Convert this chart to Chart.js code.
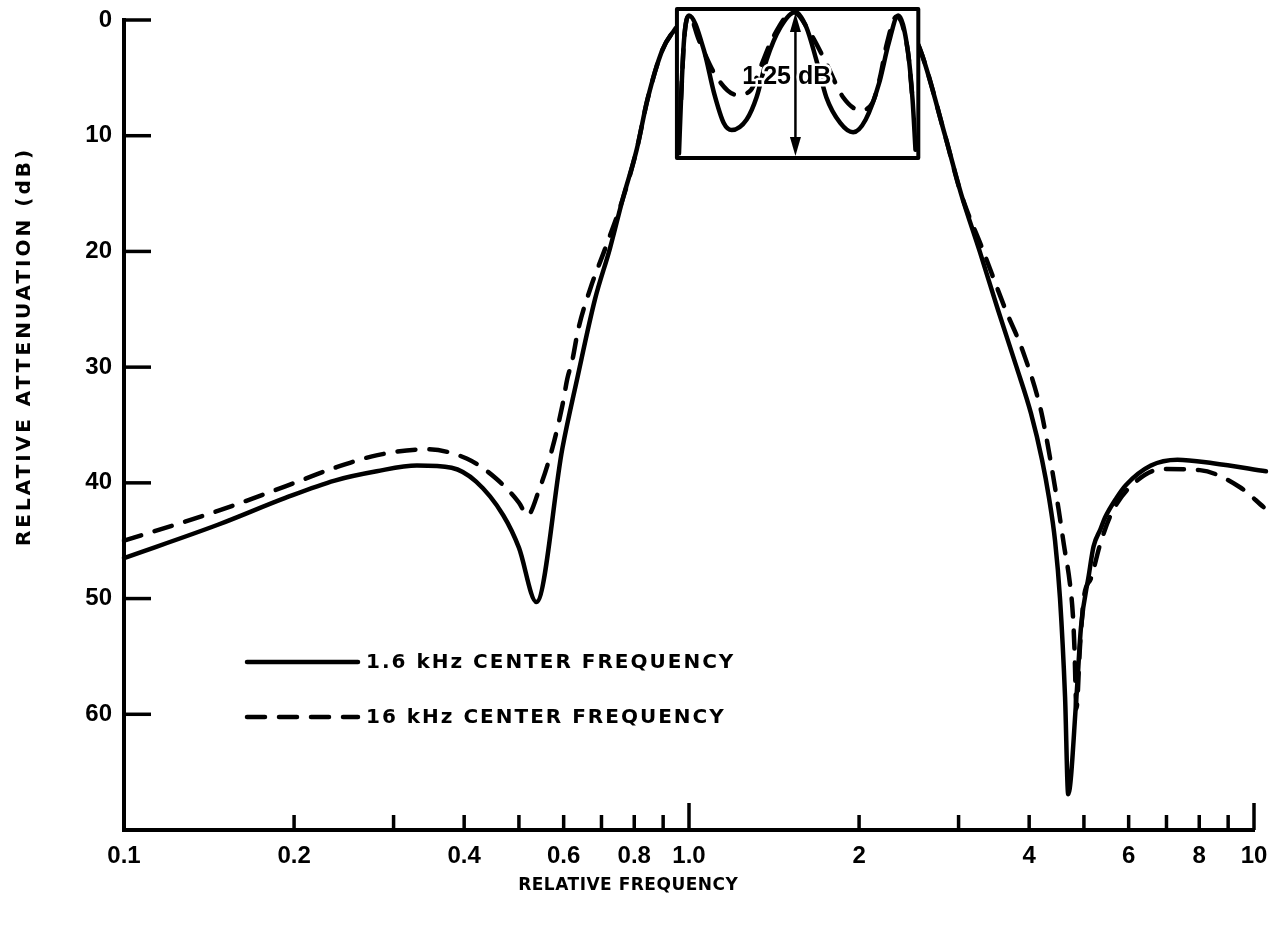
<!DOCTYPE html>
<html>
<head>
<meta charset="utf-8">
<script src="https://cdn.jsdelivr.net/npm/chart.js@4/dist/chart.umd.min.js"></script>
<style>
html,body{margin:0;padding:0;background:#fff;}
canvas{display:block;}
</style>
</head>
<body>
<canvas id="c" width="1269" height="931"></canvas>
<script>
// ---------------- data ----------------
const SERIES_LABELS = ['1.6 kHz CENTER FREQUENCY', '16 kHz CENTER FREQUENCY'];

const solidFreq = [0.1, 0.147, 0.193, 0.236, 0.28, 0.33, 0.38, 0.42, 0.469, 0.5, 0.537,
  0.597, 0.634, 0.682, 0.724, 0.763, 0.808, 0.844, 0.897, 0.941, 0.952, 1.0, 1.55, 2.4, 2.567,
  2.84, 3.03, 3.27, 3.52, 3.80, 4.03, 4.215, 4.337, 4.445, 4.536, 4.63, 4.69,
  4.85, 4.94, 5.1, 5.2, 5.35, 5.45, 5.71, 5.93, 6.57, 7.32, 8.46, 10.5];
const solidDb = [46.5, 43.6, 41.3, 39.8, 39.0, 38.5, 38.7, 39.9, 42.8, 45.6, 50.3,
  37.0, 31.0, 24.1, 19.8, 15.5, 11.2, 6.9, 2.6, 0.9, 0.6, 0.0, 0.0, 0.0, 2.6,
  10, 15, 20, 25, 30, 34, 38, 41.3, 45, 50, 58.5, 66.9,
  58.5, 52.5, 48, 45.5, 44, 43, 41.3, 40.2, 38.5, 38.0, 38.3, 39.0];

const dashFreq = [0.1, 0.147, 0.193, 0.236, 0.281, 0.343, 0.404, 0.455, 0.5, 0.518,
  0.542, 0.573, 0.597, 0.609, 0.621, 0.637, 0.669, 0.71, 0.763, 0.808, 0.844, 0.897, 0.941, 0.952,
  1.0, 1.55, 2.4, 2.567, 2.84, 3.03, 3.32, 3.63, 3.89, 4.19, 4.31, 4.41, 4.51, 4.61, 4.72, 4.78, 4.81, 4.85,
  4.92, 5.0, 5.15, 5.35, 5.6, 6.11, 6.9, 8.02, 9.46, 10.4];
const dashDb = [45.0, 42.4, 40.3, 38.7, 37.6, 37.1, 37.9, 39.6, 41.7, 42.8,
  40.7, 37.0, 33.3, 31.0, 29.5, 26.7, 23.2, 19.8, 15.5, 11.2, 6.9, 2.6, 0.9, 0.6,
  0, 0, 0, 2.6, 10, 15, 20, 25, 28.5, 33.6, 36.6, 39.4, 42.3, 45.4, 48.6, 51.4, 54.2, 59.5,
  54.2, 49.9, 48.2, 45.2, 42.6, 40.1, 38.8, 38.9, 40.4, 42.1];

// passband inset (magnified ripple, dB)
const insetSolidFreq = [0.960, 0.968, 0.980, 1.0, 1.063, 1.107, 1.152, 1.19, 1.265, 1.317, 1.372, 1.452,
  1.543, 1.613, 1.68, 1.75, 1.852, 1.952, 2.055, 2.17, 2.256, 2.346, 2.439, 2.487, 2.517];
const insetSolidDb = [1.21, 0.75, 0.24, 0.03, 0.33, 0.69, 0.95, 1.01, 0.92, 0.73, 0.41, 0.13,
  0.0, 0.13, 0.41, 0.73, 0.95, 1.03, 0.92, 0.61, 0.27, 0.03, 0.33, 0.75, 1.18];
const insetDashFreq = [0.968, 0.980, 1.0, 1.041, 1.12, 1.215, 1.286, 1.339, 1.411, 1.53, 1.639, 1.75,
  1.874, 2.008, 2.111, 2.178, 2.24, 2.328, 2.439, 2.487];
const insetDashDb = [0.75, 0.24, 0.03, 0.24, 0.56, 0.71, 0.67, 0.47, 0.21, 0.0, 0.18, 0.44,
  0.73, 0.84, 0.78, 0.56, 0.27, 0.04, 0.33, 0.75];
const insetFreqRange = [0.952, 2.546];
const insetDbRange = [0, 1.25];
const rippleLabelValue = '1.25';
const rippleLabelUnit = 'dB';
const rippleArrowFreq = 1.543;

const xTicks = [0.1, 0.2, 0.3, 0.4, 0.5, 0.6, 0.7, 0.8, 0.9, 1, 2, 3, 4, 5, 6, 7, 8, 9, 10];
const xTickLabels = ['0.1', '0.2', '', '0.4', '', '0.6', '', '0.8', '', '1.0', '2', '', '4', '', '6', '', '8', '', '10'];
const xLongTicks = [1, 10];
const yTicks = [0, 10, 20, 30, 40, 50, 60];
const yTickLabels = ['0', '10', '20', '30', '40', '50', '60'];
const xTitle = 'RELATIVE FREQUENCY';
const yTitle = 'RELATIVE ATTENUATION (dB)';

// ---------------- layout / style ----------------
const AREA = {left: 124, right: 1254, top: 20, bottom: 830};
const Y_MAX = 70;
// main-axis dB positions at which the inset's 0 and 1.25 dB lines sit
const INSET_MAIN_TOP = -0.7, INSET_MAIN_BOTTOM = 11.93;
const k = (INSET_MAIN_BOTTOM - INSET_MAIN_TOP) / (insetDbRange[1] - insetDbRange[0]);
const insetMin = (0 - INSET_MAIN_TOP) / k;
const insetMax = (Y_MAX - INSET_MAIN_TOP) / k;

const TICK_FONT = {family: 'Liberation Sans', size: 24, weight: 'bold'};
const LEGEND_FONT = 'bold 20px "DejaVu Sans"';
const YTITLE_FONT = 'bold 20px "DejaVu Sans"';
const XTITLE_FONT = 'bold 17px "DejaVu Sans"';
const LW = 4.5;
const DASH = [18, 14];

const pts = (xs, ys) => xs.map((x, i) => ({x: x, y: ys[i]}));

const common = {borderColor: '#000', backgroundColor: '#000', pointRadius: 0, fill: false,
  cubicInterpolationMode: 'monotone', clip: false, borderCapStyle: 'round', borderJoinStyle: 'round'};

const datasets = [
  Object.assign({label: SERIES_LABELS[0], data: pts(solidFreq, solidDb), borderWidth: LW, order: 1, yAxisID: 'y'}, common),
  Object.assign({label: SERIES_LABELS[1], data: pts(dashFreq, dashDb), borderWidth: LW, borderDash: DASH, order: 1, yAxisID: 'y'}, common),
  Object.assign({label: SERIES_LABELS[0] + ' (passband)', data: pts(insetSolidFreq, insetSolidDb), borderWidth: LW, order: 0, yAxisID: 'yInset'}, common),
  Object.assign({label: SERIES_LABELS[1] + ' (passband)', data: pts(insetDashFreq, insetDashDb), borderWidth: LW, borderDash: DASH, order: 0, yAxisID: 'yInset'}, common)
];

function drawBox(chart) {
  const ctx = chart.ctx, xs = chart.scales.x, yi = chart.scales.yInset;
  const x1 = xs.getPixelForValue(insetFreqRange[0]), x2 = xs.getPixelForValue(insetFreqRange[1]);
  const y1 = yi.getPixelForValue(insetDbRange[0] - 0.025), y2 = yi.getPixelForValue(insetDbRange[1]);
  ctx.save();
  ctx.fillStyle = '#fff';
  ctx.fillRect(x1, y1, x2 - x1, y2 - y1);
  ctx.strokeStyle = '#000';
  ctx.lineWidth = 4;
  ctx.lineJoin = 'round';
  ctx.strokeRect(x1, y1, x2 - x1, y2 - y1);
  ctx.restore();
}

function spacedText(ctx, text, x, y, align, spacing) {
  ctx.letterSpacing = spacing + 'px';
  const w = ctx.measureText(text).width;
  let sx = x;
  if (align === 'center') sx = x - w / 2 + spacing / 2;
  ctx.textAlign = 'left';
  ctx.fillText(text, sx, y);
  ctx.letterSpacing = '0px';
}

const decor = {
  id: 'decor',
  beforeDatasetsDraw(chart) { chart.$boxDone = false; },
  beforeDatasetDraw(chart, args) {
    const ds = chart.data.datasets[args.index];
    if (ds.yAxisID === 'yInset' && !chart.$boxDone) { drawBox(chart); chart.$boxDone = true; }
  },
  afterDraw(chart) {
    const ctx = chart.ctx, xs = chart.scales.x, ys = chart.scales.y, yi = chart.scales.yInset;
    const a = chart.chartArea;
    ctx.save();
    ctx.strokeStyle = '#000';
    ctx.fillStyle = '#000';
    ctx.lineCap = 'butt';
    ctx.lineWidth = 3.5;
    // inward x ticks
    xTicks.forEach(v => {
      if (v === 0.1) return;
      const px = xs.getPixelForValue(v);
      const len = xLongTicks.includes(v) ? 27 : 15;
      ctx.beginPath(); ctx.moveTo(px, a.bottom); ctx.lineTo(px, a.bottom - len); ctx.stroke();
    });
    // inward y ticks
    yTicks.forEach(v => {
      const py = ys.getPixelForValue(v);
      ctx.beginPath(); ctx.moveTo(a.left, py); ctx.lineTo(a.left + 27, py); ctx.stroke();
    });

    // ripple arrow
    const ax = xs.getPixelForValue(rippleArrowFreq);
    const at = yi.getPixelForValue(insetDbRange[0]) + 1;
    const ab = yi.getPixelForValue(insetDbRange[1]) - 2;
    ctx.lineWidth = 2.5;
    ctx.beginPath(); ctx.moveTo(ax, at + 14); ctx.lineTo(ax, ab - 14); ctx.stroke();
    ctx.beginPath(); ctx.moveTo(ax, at); ctx.lineTo(ax - 5.5, at + 19); ctx.lineTo(ax + 5.5, at + 19); ctx.closePath(); ctx.fill();
    ctx.beginPath(); ctx.moveTo(ax, ab); ctx.lineTo(ax - 5.5, ab - 19); ctx.lineTo(ax + 5.5, ab - 19); ctx.closePath(); ctx.fill();
    ctx.font = 'bold 25px "Liberation Sans"';
    ctx.textBaseline = 'middle';
    ctx.textAlign = 'left';
    const label = rippleLabelValue + ' ' + rippleLabelUnit;
    const w1 = ctx.measureText(rippleLabelValue).width;
    const wsp = ctx.measureText(' ').width;
    const lx = ax - w1 - wsp / 2 - 1;
    const ly = yi.getPixelForValue(0.56);
    ctx.save();
    ctx.strokeStyle = '#fff';
    ctx.lineWidth = 5;
    ctx.lineJoin = 'round';
    ctx.strokeText(label, lx, ly);
    ctx.restore();
    ctx.fillText(label, lx, ly);

    // axis titles
    ctx.textBaseline = 'middle';
    ctx.font = XTITLE_FONT;
    spacedText(ctx, xTitle, 628, 886, 'center', 0.5);
    ctx.save();
    ctx.font = YTITLE_FONT;
    ctx.translate(25, 348);
    ctx.rotate(-Math.PI / 2);
    spacedText(ctx, yTitle, 0, 0, 'center', 3);
    ctx.restore();

    // legend
    const legY = [662, 717];
    [0, 1].forEach(i => {
      const ds = chart.data.datasets[i];
      ctx.save();
      ctx.lineWidth = ds.borderWidth;
      ctx.lineCap = 'round';
      ctx.setLineDash(ds.borderDash || []);
      ctx.beginPath(); ctx.moveTo(247, legY[i]); ctx.lineTo(358, legY[i]); ctx.stroke();
      ctx.restore();
      ctx.font = LEGEND_FONT;
      ctx.textBaseline = 'middle';
      spacedText(ctx, ds.label, 366, legY[i] + 1, 'left', 2);
    });
    ctx.restore();
  }
};

new Chart(document.getElementById('c'), {
  type: 'line',
  data: {datasets: datasets},
  options: {
    responsive: false,
    animation: false,
    devicePixelRatio: 1,
    layout: {padding: {left: 0, right: 1269 - AREA.right, top: AREA.top, bottom: 0}},
    plugins: {legend: {display: false}, tooltip: {enabled: false}, title: {display: false}},
    scales: {
      x: {
        type: 'logarithmic', min: 0.1, max: 10,
        afterFit: s => { s.height = 931 - AREA.bottom; s.paddingLeft = 0; s.paddingRight = 0; },
        afterBuildTicks: s => { s.ticks = xTicks.map(v => ({value: v})); },
        grid: {display: false, drawTicks: false},
        border: {display: true, color: '#000', width: 4},
        ticks: {
          autoSkip: false, maxRotation: 0, minRotation: 0, padding: 12, color: '#000', font: TICK_FONT,
          callback: (v) => { const i = xTicks.indexOf(v); return i >= 0 ? xTickLabels[i] : ''; }
        }
      },
      y: {
        type: 'linear', reverse: true, min: 0, max: Y_MAX, position: 'left',
        afterFit: s => { s.width = AREA.left; s.paddingTop = 0; s.paddingBottom = 0; },
        afterBuildTicks: s => { s.ticks = yTicks.map(v => ({value: v})); },
        grid: {display: false, drawTicks: false},
        border: {display: true, color: '#000', width: 4},
        ticks: {
          padding: 12, color: '#000', font: TICK_FONT,
          callback: (v) => { const i = yTicks.indexOf(v); return i >= 0 ? yTickLabels[i] : ''; }
        }
      },
      yInset: {
        type: 'linear', reverse: true, min: insetMin, max: insetMax, display: false
      }
    }
  },
  plugins: [decor]
});
</script>
</body>
</html>
